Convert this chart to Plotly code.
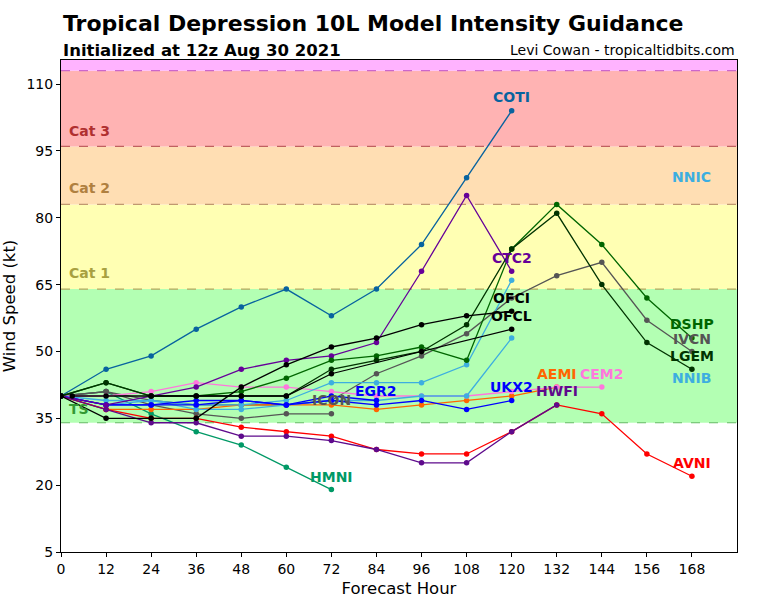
import plotly.graph_objects as go

HOURS = [0, 12, 24, 36, 48, 60, 72, 84, 96, 108, 120, 132, 144, 156, 168]

COTI = [40, 46, 49, 55, 60, 64, 58, 64, 74, 89, 104]
CTC2 = [40, 38, 40, 42, 46, 48, 49, 52, 68, 85, 68]
HWFI = [40, 37, 34, 34, 31, 31, 30, 28, 25, 25, 32, 38]
AVNI = [40, 37, 35, 35, 33, 32, 31, 28, 27, 27, 32, 38, 36, 27, 22]
HMNI = [40, 41, 36, 32, 29, 24, 19]
ICON = [40, 41, 38, 36, 35, 36, 36]
IVCN = [40, 41, 39, 38, 38, 38, 39, 45, 49, 54, 62, 67, 70, 57, 50]
OFCI = [40, 35, 35, 35, 42, 47, 51, 53, 56, 58, 59]
OFCL_HOURS = [3, 12, 24, 36, 48, 60, 72, 96, 120]
OFCL = [40, 40, 40, 40, 40, 40, 45, 50, 55]
DSHP = [40, 43, 40, 40, 41, 44, 48, 49, 51, 48, 73, 83, 74, 62, 53]
LGEM = [40, 43, 40, 40, 40, 40, 46, 48, 50, 56, 73, 81, 65, 52, 46]
NNIC = [40, 39, 39, 38, 38, 39, 43, 43, 43, 47, 66]
NNIB = [40, 38, 39, 37, 37, 38, 39, 39, 40, 40, 53]
CEM2 = [40, 40, 41, 43, 42, 42, 41, 40, 40, 40, 41, 42, 42]
AEMI = [40, 37, 37, 37, 38, 38, 38, 37, 38, 39, 40, 42]
EGR2 = [40, 38, 38, 38, 39, 38, 40, 39]
UKX2 = [40, 38, 38, 39, 39, 38, 39, 38, 39, 37, 39]

X_TICKS = list(range(0, 169, 12))
Y_TICKS = [5, 20, 35, 50, 65, 80, 95, 110]

# (name, hours, values, color, label_x, label_y)
SERIES = [
    ("HMNI", HOURS, HMNI, "#009966", 72, 21.9),
    ("ICON", HOURS, ICON, "#555555", 72, 39.1),
    ("IVCN", HOURS, IVCN, "#555555", 168, 52.9),
    ("AEMI", HOURS, AEMI, "#ff6600", 132, 44.9),
    ("CEM2", HOURS, CEM2, "#ff77dd", 144, 44.9),
    ("NNIB", HOURS, NNIB, "#3daee0", 168, 44.0),
    ("NNIC", HOURS, NNIC, "#3daee0", 168, 89.1),
    ("EGR2", HOURS, EGR2, "#0000ff", 84, 41.1),
    ("UKX2", HOURS, UKX2, "#0000ff", 120, 42.1),
    ("AVNI", HOURS, AVNI, "#ff0000", 168, 24.9),
    ("HWFI", HOURS, HWFI, "#5e0a8c", 132, 41.1),
    ("CTC2", HOURS, CTC2, "#660099", 120, 71.0),
    ("COTI", HOURS, COTI, "#08639f", 120, 107.1),
    ("DSHP", HOURS, DSHP, "#006600", 168, 56.2),
    ("LGEM", HOURS, LGEM, "#003300", 168, 49.0),
    ("OFCL", OFCL_HOURS, OFCL, "#000000", 120, 58.0),
    ("OFCI", HOURS, OFCI, "#000000", 120, 62.0),
]

FONT = "DejaVu Sans"
fig = go.Figure()

for name, hrs, vals, color, lx, ly in SERIES:
    fig.add_trace(go.Scatter(
        x=hrs[:len(vals)], y=vals, mode="lines+markers", name=name,
        line=dict(color=color, width=1.3),
        marker=dict(color=color, size=5.5),
        showlegend=False, hoverinfo="skip",
    ))
    fig.add_annotation(x=lx, y=ly, text="<b>%s</b>" % name, showarrow=False,
                       font=dict(family=FONT, size=14, color=color),
                       xanchor="center", yanchor="middle")

# intensity bands
BANDS = [
    (34, 64, "#b3ffb3", "#66bb66"),
    (64, 83, "#ffffb3", "#b3a860"),
    (83, 96, "#ffdeb3", "#c09870"),
    (96, 113, "#ffb3b3", "#c06060"),
    (113, 130, "#ffb3ff", "#cc66cc"),
]
shapes = []
for lo, hi, fill, edge in BANDS:
    shapes.append(dict(type="rect", xref="paper", yref="y", x0=0, x1=1, y0=lo, y1=hi,
                       fillcolor=fill, line=dict(width=0), layer="below"))
    shapes.append(dict(type="line", xref="paper", yref="y", x0=0, x1=1, y0=lo, y1=lo,
                       line=dict(color=edge, width=1.2, dash="dash"), layer="below"))

CAT_LABELS = [("TS", 37.2, "#339933"), ("Cat 1", 67.5, "#a8a040"),
              ("Cat 2", 86.6, "#b08040"), ("Cat 3", 99.5, "#b03030")]
for txt, y, c in CAT_LABELS:
    fig.add_annotation(x=1.5, y=y, text="<b>%s</b>" % txt, showarrow=False,
                       font=dict(family=FONT, size=14, color=c),
                       xanchor="left", yanchor="middle")

fig.add_annotation(xref="paper", yref="paper", x=0, y=1, yshift=37,
                   text="<b>Tropical Depression 10L Model Intensity Guidance</b>",
                   showarrow=False, font=dict(family=FONT, size=22, color="black"),
                   xanchor="left", yanchor="middle")
fig.add_annotation(xref="paper", yref="paper", x=0, y=1, yshift=10,
                   text="<b>Initialized at 12z Aug 30 2021</b>",
                   showarrow=False, font=dict(family=FONT, size=16.5, color="black"),
                   xanchor="left", yanchor="middle")
fig.add_annotation(xref="paper", yref="paper", x=1, y=1, yshift=10,
                   text="Levi Cowan - tropicaltidbits.com",
                   showarrow=False, font=dict(family=FONT, size=14, color="black"),
                   xanchor="right", yanchor="middle")

fig.update_layout(
    width=768, height=600,
    margin=dict(l=61, r=31, t=60, b=48),
    paper_bgcolor="white", plot_bgcolor="white",
    font=dict(family=FONT, size=14, color="black"),
    shapes=shapes,
    xaxis=dict(range=[0, 180], tickmode="array", tickvals=X_TICKS, automargin=False,
               showgrid=False, zeroline=False, showline=True, mirror=True,
               linecolor="black", linewidth=1, ticks="outside", ticklen=4,
               tickcolor="black", tickfont=dict(size=14),
               title=dict(text="Forecast Hour", font=dict(size=16.5), standoff=6)),
    yaxis=dict(range=[5, 115.4], tickmode="array", tickvals=Y_TICKS, automargin=False,
               showgrid=False, zeroline=False, showline=True, mirror=True,
               linecolor="black", linewidth=1, ticks="outside", ticklen=4,
               tickcolor="black", tickfont=dict(size=14),
               title=dict(text="Wind Speed (kt)", font=dict(size=16.5), standoff=6)),
)

fig.write_html("out.html")
